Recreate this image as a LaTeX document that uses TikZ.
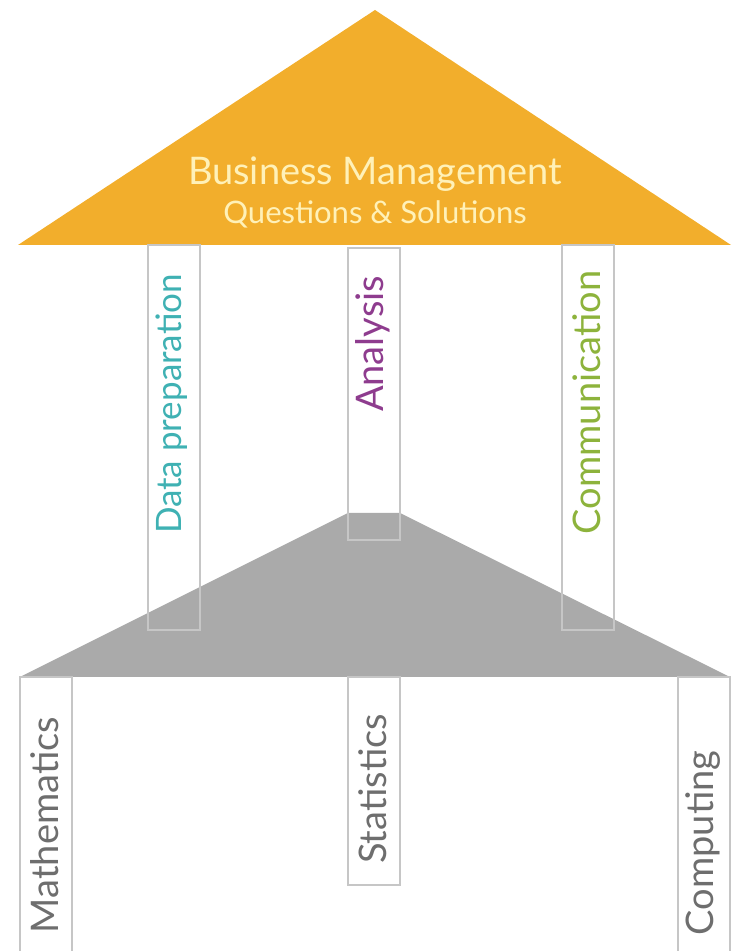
\documentclass[tikz,border=0pt]{standalone}
\usepackage{fontspec}
\setmainfont{Lato}
\usetikzlibrary{calc}
\definecolor{CRoof}{HTML}{F2AE2C}
\definecolor{CRoofText}{HTML}{FFF1B8}
\definecolor{CBase}{HTML}{AAAAAA}
\definecolor{CFrame}{HTML}{C6C6C6}
\definecolor{CTeal}{HTML}{3FB1B3}
\definecolor{CPurple}{HTML}{8E3C8E}
\definecolor{CGreen}{HTML}{8DB33C}
\definecolor{CGrayText}{HTML}{6E6E6E}

\begin{document}
\begin{tikzpicture}[x=1pt, y=1pt,
    pillar/.style={draw=CFrame, line width=1.4pt, rectangle, inner sep=0pt, minimum width=52pt},
    pillartext/.style={rotate=90, inner sep=0pt, font=\fontsize{38}{44}\selectfont}]

  \useasboundingbox (0,0) rectangle (734,951);

  % ============================================
  % ROOF: Business questions
  % ============================================
  \fill[CRoof] (18,706) -- (375,941) -- (731,706) -- cycle;
  \node[text=CRoofText, font=\fontsize{38}{44}\selectfont] (biz) at (375,777) {Business Management};
  \node[text=CRoofText, font=\fontsize{31}{36}\selectfont] (qs) at (375,737) {Questions \& Solutions};

  % ============================================
  % BASE: Foundation block
  % ============================================
  \fill[CBase] (20,274) -- (348,438) -- (400,438) -- (730,274) -- cycle;

  % Upper pillars
  \node[pillar, minimum height=385pt] (prep) at (174,513.5) {};
  \node[pillar, minimum height=292pt] (ana) at (374,557) {};
  \node[pillar, minimum height=385pt] (comm) at (588,513.5) {};

  \node[pillartext, text=CTeal, font=\fontsize{35}{40}\selectfont] (preplbl) at (172,547) {Data preparation};
  \node[pillartext, text=CPurple] (analbl) at (373,607) {Analysis};
  \node[pillartext, text=CGreen] (commlbl) at (587,548.5) {Communication};

  % Lower pillars
  \node[pillar, minimum height=280pt] (math) at (46,134) {};
  \node[pillar, minimum height=208pt] (stat) at (374,170) {};
  \node[pillar, minimum height=280pt] (comp) at (704,134) {};

  \node[pillartext, text=CGrayText] (mathlbl) at (45,126) {Mathematics};
  \node[pillartext, text=CGrayText] (statlbl) at (373,162) {Statistics};
  \node[pillartext, text=CGrayText] (complbl) at (703,108) {Computing};

\end{tikzpicture}
\end{document}
